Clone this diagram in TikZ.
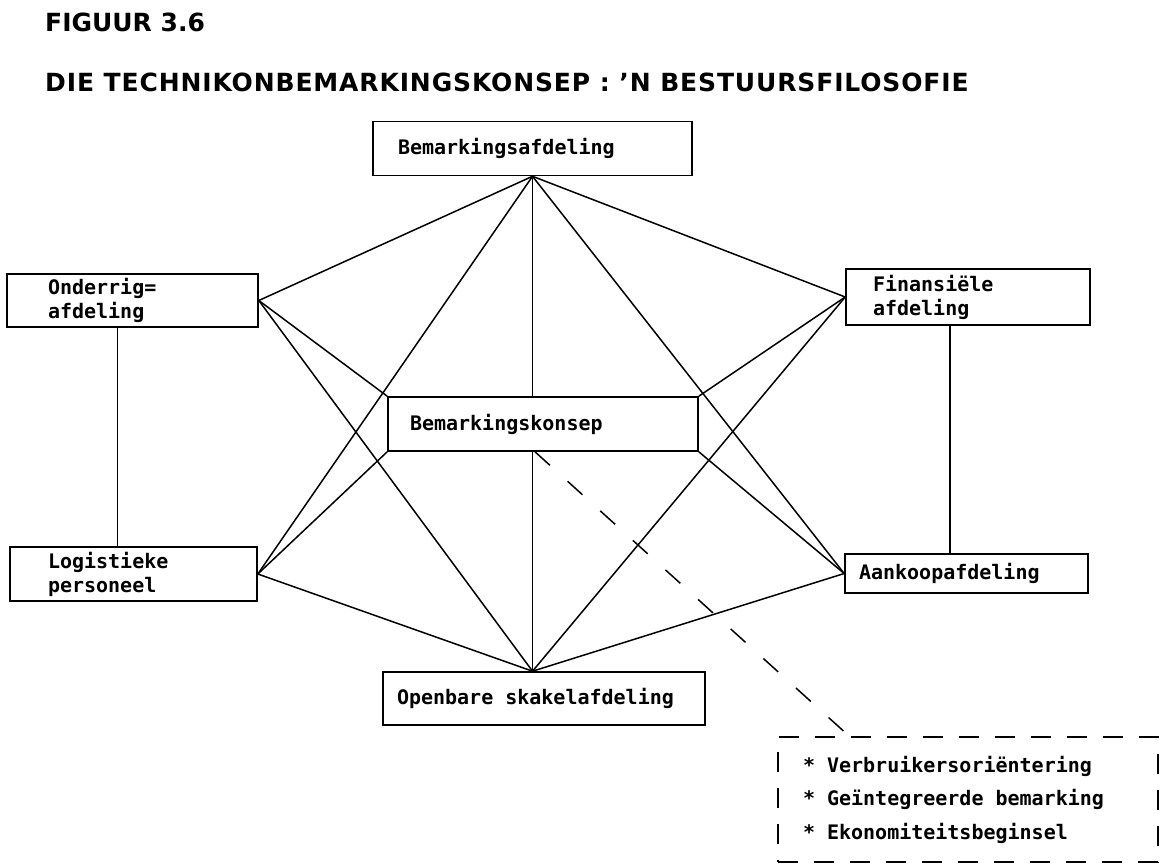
\documentclass[tikz,border=0pt]{standalone}
\usepackage{fontspec}
\setmainfont{DejaVu Sans}
\newfontfamily\drukker{DejaVu Sans Mono}
\usetikzlibrary{backgrounds}
\tikzset{
  afd/.style 2 args={draw, line width=1.6pt, fill=white, font=\drukker\bfseries\fontsize{20}{24}\selectfont,
    align=left, inner xsep=#1, inner ysep=0pt, text width=#2, minimum height=54pt, vaste spasie},
  vaste spasie/.style={execute at begin node={\spaceskip=0.6em\relax}},
  lyn/.style={line width=1.5pt},
  opskrif/.style={anchor=base west, inner sep=0pt, font=\bfseries\fontsize{25}{30}\selectfont}
}
\begin{document}
\begin{tikzpicture}[x=1pt,y=-1pt]
\useasboundingbox (0,0) rectangle (1169,866);
\node[opskrif] (figuur) at (45,32) {FIGUUR 3.6};
\node[opskrif] (titel) at (45,92) {\addfontfeature{LetterSpace=3.5}DIE TECHNIKONBEMARKINGSKONSEP : 'N BESTUURSFILOSOFIE};

\node[afd={25pt}{269pt}] (bemafd) at (532.5,148.5) {Bemarkingsafdeling};
\node[afd={41pt}{169pt}, minimum height=53pt] (onderrig) at (132.5,300.5) {Onderrig=\\afdeling};
\node[afd={27pt}{190pt}, minimum height=56pt] (finans) at (968,297) {Finansiële\\afdeling};
\node[afd={22pt}{266pt}] (bemkonsep) at (543,424) {Bemarkingskonsep};
\node[afd={38pt}{171pt}] (logist) at (133.5,574) {Logistieke\\personeel};
\node[afd={14pt}{215pt}, minimum height=39pt] (aankoop) at (966.5,573.5) {Aankoopafdeling};
\node[afd={14pt}{294pt}, minimum height=53pt] (openbaar) at (544,698.5) {Openbare skakelafdeling};

% kenmerke van die konsep
\node[draw, line width=1.6pt, dash pattern=on 20pt off 16pt, align=left, inner xsep=25pt, inner ysep=0pt, vaste spasie,
  text width=330pt, minimum height=125pt, font=\drukker\bfseries\fontsize{20}{33.5}\selectfont] (kenmerke) at (968,799.5)
  {{*} Verbruikersoriëntering\\{*} Geïntegreerde bemarking\\{*} Ekonomiteitsbeginsel};

\begin{scope}[on background layer]
\coordinate (okp) at (openbaar.north -| bemafd.south);
\draw[lyn] (bemafd.south) -- (okp);
\foreach \n in {onderrig.east, logist.east, finans.west, aankoop.west}
  \draw[lyn] (bemafd.south) -- (\n) -- (okp);
\draw[lyn] (onderrig.east) -- (bemkonsep.north west);
\draw[lyn] (finans.west) -- (bemkonsep.north east);
\draw[lyn] (logist.east) -- (bemkonsep.south west);
\draw[lyn] (aankoop.west) -- (bemkonsep.south east);
\draw[lyn] ([xshift=-15pt]onderrig.south) -- ([xshift=-16pt]logist.north);
\draw[lyn] ([xshift=-18pt]finans.south) -- ([xshift=-16.5pt]aankoop.north);
\end{scope}
\draw[lyn, dash pattern=on 20pt off 24pt] ([xshift=-8pt]bemkonsep.south) -- ([xshift=72pt]kenmerke.north west);

\end{tikzpicture}
\end{document}
